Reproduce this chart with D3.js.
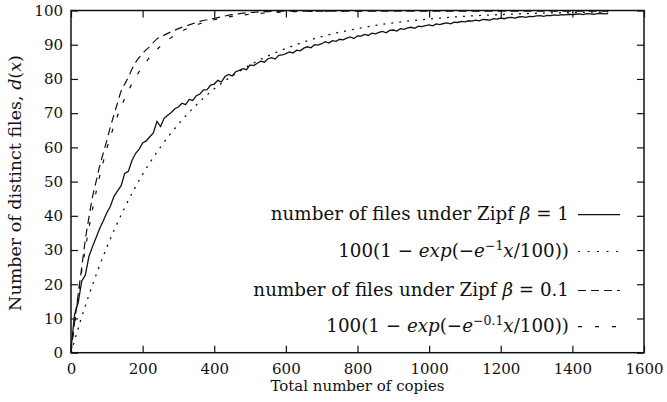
<!DOCTYPE html>
<html>
<head>
<meta charset="utf-8">
<script src="https://cdn.jsdelivr.net/npm/d3@7"></script>
<style>
  body { margin: 0; background: #fff; }
  svg { display: block; }
</style>
</head>
<body>
<script>
// ticks
const xTicks = [0, 200, 400, 600, 800, 1000, 1200, 1400, 1600];
const yTicks = [0, 10, 20, 30, 40, 50, 60, 70, 80, 90, 100];

// simulated number of files, Zipf beta = 1 (one value every 10 copies, 0..1500)
const zipf1Step = 10;
const zipf1 = [
  1.0, 11.2, 14.6, 20.9, 22.7, 28.1, 31.0, 33.6, 36.3, 38.5,
  40.9, 42.8, 45.7, 47.3, 48.8, 52.4, 53.0, 56.1, 58.2, 59.4,
  61.3, 61.9, 63.1, 64.2, 67.6, 66.1, 68.5, 69.4, 70.2, 71.3,
  71.8, 72.9, 72.5, 74.0, 73.7, 75.1, 75.6, 76.8, 76.9, 78.2,
  78.5, 79.6, 79.1, 80.7, 81.3, 80.9, 82.1, 82.5, 83.0, 82.7,
  84.1, 83.9, 84.6, 85.2, 84.9, 85.9, 86.2, 85.8, 86.9, 87.0,
  87.4, 87.9, 87.6, 88.4, 88.2, 89.0, 89.4, 89.1, 90.0, 89.9,
  90.3, 90.9, 90.5, 91.2, 91.0, 91.6, 91.4, 91.9, 92.3, 91.8,
  92.6, 92.5, 93.0, 92.7, 93.4, 93.2, 93.6, 93.9, 93.5, 94.2,
  94.3, 94.0, 94.7, 94.5, 94.9, 95.1, 94.8, 95.4, 95.3, 95.6,
  95.8, 95.5, 96.1, 95.9, 96.2, 96.4, 96.1, 96.6, 96.5, 96.8,
  96.7, 97.0, 96.9, 97.2, 97.0, 97.4, 97.3, 97.2, 97.6, 97.5,
  97.8, 97.6, 97.9, 98.0, 97.8, 98.1, 98.2, 98.0, 98.3, 98.2,
  98.4, 98.5, 98.3, 98.6, 98.5, 98.7, 98.6, 98.8, 98.7, 98.9,
  98.8, 98.9, 99.0, 98.8, 99.1, 99.0, 98.9, 99.1, 99.2, 99.0,
  99.1
];

// 100(1 - exp(-e^-1 x/100))
const fit1X = [0, 25, 50, 75, 100, 150, 200, 250, 300, 350, 400, 450, 500, 600, 700, 800, 900, 1000, 1100, 1200, 1300, 1400, 1500];
const fit1Y = [0, 8.8, 16.8, 24.1, 30.8, 42.4, 52.1, 60.1, 66.8, 72.4, 77.1, 80.9, 84.1, 88.9, 92.4, 94.7, 96.4, 97.5, 98.3, 98.8, 99.2, 99.4, 99.6];

// simulated number of files, Zipf beta = 0.1 (dashed)
const zipf01X = [0, 10, 20, 30, 40, 50, 60, 70, 80, 90, 100, 110, 120, 130, 140, 150, 160, 170, 180, 190, 200, 220, 240, 260, 280, 300, 330, 360, 400, 450, 500, 550, 600, 700, 800, 900, 1000, 1100, 1200, 1300, 1400, 1500];
const zipf01Y = [0, 9, 17, 25, 33, 39.5, 45.5, 50, 54.5, 58.3, 62, 66, 69.5, 73, 76.5, 78.5, 80.5, 82.8, 84.8, 86.2, 87.5, 89.5, 91.7, 92.8, 93.8, 94.7, 95.8, 96.8, 97.7, 98.8, 99.4, 99.7, 99.8, 99.8, 99.8, 99.8, 99.8, 99.8, 99.8, 99.8, 99.8, 99.8];

// 100(1 - exp(-e^-0.1 x/100))
const fit01X = [0, 25, 50, 75, 100, 125, 150, 175, 200, 250, 300, 350, 400, 450, 500, 600, 700, 800, 1000, 1200, 1500];
const fit01Y = [0, 20.3, 36.4, 49.3, 59.6, 67.8, 74.3, 79.5, 83.6, 89.6, 93.4, 95.8, 97.3, 98.3, 98.9, 99.6, 99.8, 99.9, 100, 100, 100];

const w = 667, h = 402;
const mLeft = 71, mRight = 644, mTop = 10.5, mBottom = 352.7;
const font = '"DejaVu Serif", serif';

const svg = d3.select('body').append('svg')
  .attr('width', w)
  .attr('height', h);

const x = d3.scaleLinear().domain([0, 1600]).range([mLeft, mRight]);
const y = d3.scaleLinear().domain([0, 100]).range([mBottom, mTop]);

// axes, ticks on all four sides pointing inward
const tickLen = 7;
svg.append('g')
  .attr('transform', `translate(0, ${mBottom})`)
  .call(d3.axisBottom(x).tickValues(xTicks).tickSize(-tickLen).tickPadding(10.5).tickFormat(d3.format('d')))
  .call(g => g.select('.domain').remove());

svg.append('g')
  .attr('transform', `translate(${mLeft}, 0)`)
  .call(d3.axisLeft(y).tickValues(yTicks).tickSize(-tickLen).tickPadding(8))
  .call(g => g.select('.domain').remove());

svg.append('g')
  .attr('transform', `translate(0, ${mTop})`)
  .call(d3.axisTop(x).tickValues(xTicks).tickSize(-tickLen).tickFormat(''))
  .call(g => g.select('.domain').remove());

svg.append('g')
  .attr('transform', `translate(${mRight}, 0)`)
  .call(d3.axisRight(y).tickValues(yTicks).tickSize(-tickLen).tickFormat(''))
  .call(g => g.select('.domain').remove());

svg.selectAll('.tick line').attr('stroke', '#111').attr('stroke-width', 1.2);
svg.selectAll('.tick text')
  .attr('fill', '#111')
  .style('font-family', font)
  .style('font-size', '15px');

svg.append('rect')
  .attr('x', mLeft).attr('y', mTop)
  .attr('width', mRight - mLeft).attr('height', mBottom - mTop)
  .attr('fill', 'none').attr('stroke', '#111').attr('stroke-width', 1.5);

// axis titles
svg.append('text')
  .attr('x', (mLeft + mRight) / 2).attr('y', 391)
  .attr('text-anchor', 'middle')
  .attr('fill', '#111')
  .style('font-family', font)
  .style('font-size', '15px')
  .text('Total number of copies');

const yt = svg.append('text')
  .attr('transform', 'translate(21, 183) rotate(-90)')
  .attr('text-anchor', 'middle')
  .attr('fill', '#111')
  .style('font-family', font)
  .style('font-size', '17.5px');
yt.append('tspan').text('Number of distinct files, ');
yt.append('tspan').style('font-style', 'italic').text('d');
yt.append('tspan').text('(');
yt.append('tspan').style('font-style', 'italic').text('x');
yt.append('tspan').text(')');

// curves
const line = d3.line().x(d => x(d[0])).y(d => y(d[1]));
const smooth = d3.line().x(d => x(d[0])).y(d => y(d[1])).curve(d3.curveMonotoneX);

const series = [
  { pts: zipf1.map((v, i) => [i * zipf1Step, v]), gen: line, dash: null, width: 1.3 },
  { pts: fit1X.map((v, i) => [v, fit1Y[i]]), gen: smooth, dash: '2,6', width: 1.3 },
  { pts: zipf01X.map((v, i) => [v, zipf01Y[i]]), gen: smooth, dash: '8,5', width: 1.2 },
  { pts: fit01X.map((v, i) => [v, fit01Y[i]]), gen: smooth, dash: '4,12', width: 1.2 }
];

const plot = svg.append('g');
series.forEach(s => {
  plot.append('path')
    .attr('d', s.gen(s.pts))
    .attr('fill', 'none')
    .attr('stroke', '#111')
    .attr('stroke-width', s.width)
    .attr('stroke-dasharray', s.dash);
});

// legend
const legendY = [214.7, 251.5, 290.5, 326.7];
const legendDash = [null, '2,7.5', '8,5', '4,13'];
const legend = svg.append('g');

function addLegendText(g, yy, parts) {
  const t = g.append('text')
    .attr('x', 569).attr('y', yy + 5.5)
    .attr('text-anchor', 'end')
    .attr('fill', '#111')
    .style('font-family', font)
    .style('font-size', '18.3px');
  parts.forEach(p => {
    const ts = t.append('tspan').text(p.t);
    if (p.i) ts.style('font-style', 'italic');
    if (p.sup) ts.attr('dy', -7).style('font-size', '12.5px');
    if (p.down) ts.attr('dy', 7);
  });
}

addLegendText(legend, legendY[0], [{ t: 'number of files under Zipf ' }, { t: 'β', i: true }, { t: ' = 1' }]);
addLegendText(legend, legendY[1], [{ t: '100(1 − ' }, { t: 'exp', i: true }, { t: '(−' }, { t: 'e', i: true }, { t: '−1', sup: true }, { t: 'x', i: true, down: true }, { t: '/100))' }]);
addLegendText(legend, legendY[2], [{ t: 'number of files under Zipf ' }, { t: 'β', i: true }, { t: ' = 0.1' }]);
addLegendText(legend, legendY[3], [{ t: '100(1 − ' }, { t: 'exp', i: true }, { t: '(−' }, { t: 'e', i: true }, { t: '−0.1', sup: true }, { t: 'x', i: true, down: true }, { t: '/100))' }]);

legendY.forEach((yy, i) => {
  legend.append('line')
    .attr('x1', 578).attr('x2', 620)
    .attr('y1', yy).attr('y2', yy)
    .attr('stroke', '#111')
    .attr('stroke-width', 1.2)
    .attr('stroke-dasharray', legendDash[i]);
});
</script>
</body>
</html>
